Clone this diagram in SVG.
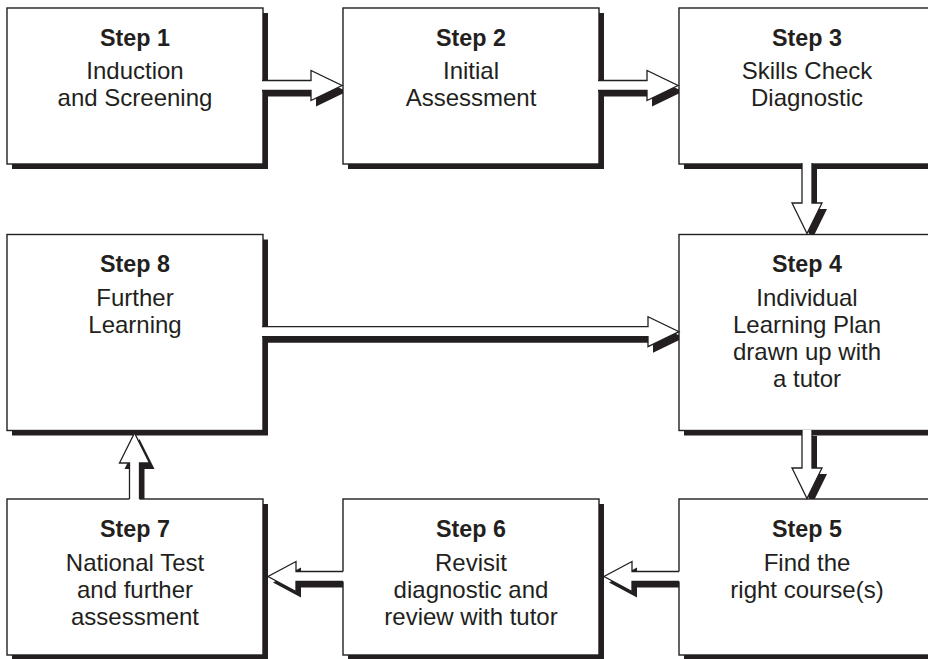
<svg xmlns="http://www.w3.org/2000/svg" width="928" height="659" viewBox="0 0 928 659">
<style>
.sh{fill:#231f20}
.bx{fill:#fff;stroke:#231f20;stroke-width:1.4}
.aw{fill:#fff;stroke:none}
.ao{fill:none;stroke:#231f20;stroke-width:1.3;stroke-linejoin:miter}
.as{fill:#231f20}
text{font-family:"Liberation Sans",Arial,sans-serif;fill:#231f20;text-anchor:middle}
.t{font-weight:bold;font-size:23.3px}
.b{font-size:24px}
</style>
<rect width="928" height="659" fill="#fff"/>
<g id="arrow-shadows" transform="translate(5,6)">
<polygon class="as" points="262,80.5 311,80.5 311,70.5 342,85.5 311,100.5 311,90.5 262,90.5"/>
<polygon class="as" points="598,80.5 647,80.5 647,70.5 678,85.5 647,100.5 647,90.5 598,90.5"/>
<polygon class="as" points="802,163 802,203 792,203 807,233.5 822,203 812,203 812,163"/>
<polygon class="as" points="262,326.7 648,326.7 648,316.7 679,331.7 648,346.7 648,336.7 262,336.7"/>
<polygon class="as" points="802,430 802,468 792,468 807,498.5 822,468 812,468 812,430"/>
<polygon class="as" points="679,571.5 632,571.5 632,561.5 604,576.5 632,591.5 632,581.5 679,581.5"/>
<polygon class="as" points="343,571.5 296,571.5 296,561.5 268,576.5 296,591.5 296,581.5 343,581.5"/>
<polygon class="as" points="129.5,499 129.5,463 119.5,463 134.5,433 149.5,463 139.5,463 139.5,499"/>
</g>
<g id="step1">
<rect class="sh" x="12" y="13" width="256" height="156"/>
<rect class="bx" x="7" y="8" width="256" height="156"/>
<text class="t" x="135" y="45.5">Step 1</text>
<text class="b" x="135" y="79">Induction</text>
<text class="b" x="135" y="106">and Screening</text>
</g>
<g id="step2">
<rect class="sh" x="348" y="13" width="256" height="156"/>
<rect class="bx" x="343" y="8" width="256" height="156"/>
<text class="t" x="471" y="45.5">Step 2</text>
<text class="b" x="471" y="79">Initial</text>
<text class="b" x="471" y="106">Assessment</text>
</g>
<g id="step3">
<rect class="sh" x="684" y="13" width="256" height="156"/>
<rect class="bx" x="679" y="8" width="256" height="156"/>
<text class="t" x="807" y="45.5">Step 3</text>
<text class="b" x="807" y="79">Skills Check</text>
<text class="b" x="807" y="106">Diagnostic</text>
</g>
<g id="step4">
<rect class="sh" x="684" y="239.5" width="256" height="196"/>
<rect class="bx" x="679" y="234.5" width="256" height="196"/>
<text class="t" x="807" y="271.5">Step 4</text>
<text class="b" x="807" y="306">Individual</text>
<text class="b" x="807" y="333">Learning Plan</text>
<text class="b" x="807" y="360">drawn up with</text>
<text class="b" x="807" y="386.5">a tutor</text>
</g>
<g id="step8">
<rect class="sh" x="12" y="239.5" width="256" height="196"/>
<rect class="bx" x="7" y="234.5" width="256" height="196"/>
<text class="t" x="135" y="271.5">Step 8</text>
<text class="b" x="135" y="306">Further</text>
<text class="b" x="135" y="333">Learning</text>
</g>
<g id="step5">
<rect class="sh" x="684" y="504" width="256" height="156"/>
<rect class="bx" x="679" y="499" width="256" height="156"/>
<text class="t" x="807" y="536.5">Step 5</text>
<text class="b" x="807" y="571">Find the</text>
<text class="b" x="807" y="598">right course(s)</text>
</g>
<g id="step6">
<rect class="sh" x="348" y="504" width="256" height="156"/>
<rect class="bx" x="343" y="499" width="256" height="156"/>
<text class="t" x="471" y="536.5">Step 6</text>
<text class="b" x="471" y="571">Revisit</text>
<text class="b" x="471" y="598">diagnostic and</text>
<text class="b" x="471" y="625">review with tutor</text>
</g>
<g id="step7">
<rect class="sh" x="12" y="504" width="256" height="156"/>
<rect class="bx" x="7" y="499" width="256" height="156"/>
<text class="t" x="135" y="536.5">Step 7</text>
<text class="b" x="135" y="571">National Test</text>
<text class="b" x="135" y="598">and further</text>
<text class="b" x="135" y="625">assessment</text>
</g>
<g id="connectors">
<polygon class="aw" points="262,80.5 311,80.5 311,70.5 342,85.5 311,100.5 311,90.5 262,90.5"/>
<polyline class="ao" points="262,80.5 311,80.5 311,70.5 342,85.5 311,100.5 311,90.5 262,90.5"/>
<polygon class="aw" points="598,80.5 647,80.5 647,70.5 678,85.5 647,100.5 647,90.5 598,90.5"/>
<polyline class="ao" points="598,80.5 647,80.5 647,70.5 678,85.5 647,100.5 647,90.5 598,90.5"/>
<polygon class="aw" points="802,163 802,203 792,203 807,233.5 822,203 812,203 812,163"/>
<polyline class="ao" points="802,163 802,203 792,203 807,233.5 822,203 812,203 812,163"/>
<polygon class="aw" points="262,326.7 648,326.7 648,316.7 679,331.7 648,346.7 648,336.7 262,336.7"/>
<polyline class="ao" points="262,326.7 648,326.7 648,316.7 679,331.7 648,346.7 648,336.7 262,336.7"/>
<polygon class="aw" points="802,430 802,468 792,468 807,498.5 822,468 812,468 812,430"/>
<polyline class="ao" points="802,430 802,468 792,468 807,498.5 822,468 812,468 812,430"/>
<polygon class="aw" points="680,571.5 632,571.5 632,561.5 604,576.5 632,591.5 632,581.5 680,581.5"/>
<polyline class="ao" points="679,571.5 632,571.5 632,561.5 604,576.5 632,591.5 632,581.5 679,581.5"/>
<polygon class="aw" points="344,571.5 296,571.5 296,561.5 268,576.5 296,591.5 296,581.5 344,581.5"/>
<polyline class="ao" points="343,571.5 296,571.5 296,561.5 268,576.5 296,591.5 296,581.5 343,581.5"/>
<polygon class="aw" points="129.5,500 129.5,463 119.5,463 134.5,433 149.5,463 139.5,463 139.5,500"/>
<polyline class="ao" points="129.5,499 129.5,463 119.5,463 134.5,433 149.5,463 139.5,463 139.5,499"/>
</g>
</svg>
